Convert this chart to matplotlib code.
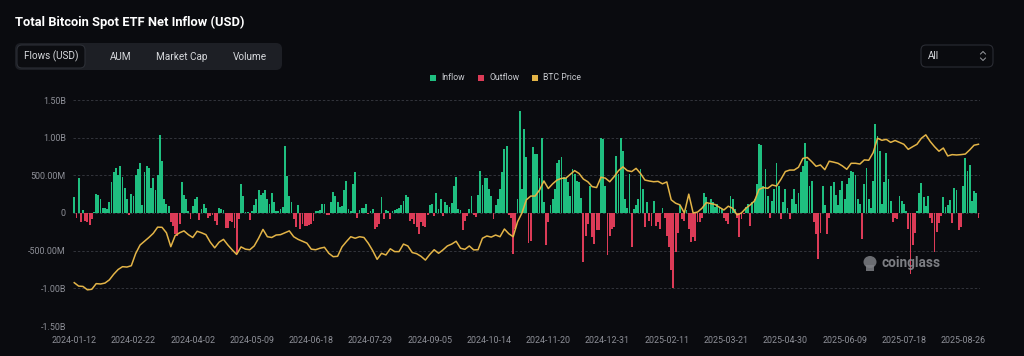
import matplotlib
matplotlib.use("Agg")
import matplotlib.pyplot as plt
from matplotlib.patches import FancyBboxPatch, Rectangle, Ellipse
import numpy as np

# net flow per trading day, billions USD
net_flow_b = [
    0.21, -0.06, 0.46, -0.12, 0.04, -0.10, -0.12, -0.16, -0.08, 0.01,
    0.25, 0.24, 0.19, 0.07, 0.07, 0.05, 0.14, 0.41, 0.54, 0.60,
    0.50, 0.63, 0.48, 0.33, 0.18, -0.02, 0.25, 0.22, 0.50, 0.58,
    0.67, 0.10, 0.55, 0.63, 0.60, 0.33, 0.47, 0.30, 0.50, 1.04,
    0.69, 0.18, 0.12, 0.09, -0.12, -0.17, -0.28, -0.30, -0.15, 0.41,
    0.24, 0.19, 0.03, -0.08, 0.09, 0.19, 0.21, -0.09, 0.05, 0.12,
    0.07, -0.06, -0.04, -0.03, -0.10, -0.16, 0.06, 0.05, 0.04,
    -0.20, -0.20, -0.10, -0.12, -0.20, -0.54, -0.08, 0.38, 0.23, 0.01,
    0.01, -0.09, 0.02, 0.10, 0.19, 0.31, 0.24, 0.27, 0.30, 0.18,
    0.12, 0.26, 0.15, 0.03, 0.03, 0.05, 0.08, 0.89, 0.49, 0.23,
    0.14, -0.08, -0.19, 0.11, -0.21, -0.15, -0.17, -0.17, -0.16, -0.15,
    -0.10,
    0.03, 0.03, 0.04, 0.12, 0.12, -0.02, -0.02, 0.14, 0.28, 0.22,
    0.15, 0.08, 0.09, 0.30, 0.43, 0.05, 0.03, 0.38, 0.54, -0.07,
    0.04, 0.06, 0.06, 0.12, -0.01, 0.03, 0.05, -0.21, -0.19, -0.14,
    0.21, -0.08, 0.04, 0.03, -0.08, 0.02, 0.04, 0.05, 0.07, 0.10,
    0.16,
    0.24, 0.21, -0.10, -0.08, -0.14, -0.18, -0.28, -0.12, -0.17, -0.19,
    -0.03, 0.10, 0.12, -0.04, 0.26, 0.05, 0.18, -0.04, 0.15, 0.10,
    0.08, 0.13, 0.36, 0.48, 0.05, 0.04, -0.23, -0.10, -0.04, 0.05,
    0.23, -0.03, -0.05, 0.24, 0.56, 0.37, 0.46, 0.47, 0.32, 0.22,
    -0.08,
    0.10, 0.18, 0.32, 0.55, 0.85, 0.89, -0.03, -0.06, -0.54, -0.21,
    0.18, 1.35, 0.32, 1.11, 0.75, -0.40, -0.37, 0.87, 0.78, 0.78,
    0.47, 1.00, 0.14, -0.43, -0.12, 0.10, 0.19, 0.32, 0.67, 0.71,
    0.74, 0.48, 0.46, 0.41, 0.23, 0.59, 0.52, 0.43, 0.41, 0.20,
    -0.65, -0.30, -0.15, 0.36, -0.32, -0.41, -0.23, -0.23, 0.99, 0.98,
    0.36, -0.56, -0.30, -0.21, -0.19, 0.76, 0.52, 0.99, 0.82, 0.18,
    0.06, 0.52, -0.45, 0.05, 0.10, 0.18, 0.58, 0.32, -0.19, 0.15,
    -0.10, -0.17, 0.16, -0.17, -0.12, -0.21, 0.07, -0.06, -0.30, -0.45,
    -0.75, -1.00, -0.52, -0.26,
    0.11, -0.08, -0.10, 0.04, -0.21, -0.39, -0.32, -0.37, -0.12, -0.12,
    -0.06, 0.27, 0.21, 0.12, 0.19, 0.14, 0.08, 0.12, 0.08, 0.05,
    -0.06, -0.10, -0.15, 0.22, 0.19, 0.05, -0.06, -0.32, -0.08, -0.01,
    0.08, 0.12, -0.17, 0.14, 0.19, 0.38, 0.91, 0.90, 0.36,
    0.58, 0.23, -0.06, 0.16, 0.32, 0.67, 0.36, -0.08, 0.14, 0.32,
    0.07, -0.08, 0.19, 0.32, 0.12, 0.27, 0.54, 0.63, 0.93, 0.69,
    0.36, 0.43, -0.12, -0.28, -0.61, -0.26, 0.36, 0.10, -0.28, -0.06,
    0.36, 0.41, 0.24, 0.10, 0.30, 0.43, 0.19, 0.38, 0.46, 0.56,
    0.54,
    0.50, 0.19, 0.12, -0.34, 0.38, 0.60, 0.19, 0.07, 0.43, 1.18,
    1.02, 0.82, 0.12, 0.41, 0.80, 0.45, 0.16, -0.12, -0.07, -0.08,
    0.23, 0.16, 0.12, 0.03, -0.21, -0.81, -0.43, -0.26, 0.03, 0.27,
    0.40, 0.21, 0.09, 0.23, -0.06, -0.13, -0.52, -0.25, -0.13, -0.04,
    0.21, 0.08, 0.10, 0.17, -0.13, 0.33, 0.31, -0.22, -0.18, 0.36,
    0.73, 0.56, 0.64, 0.16, 0.29, 0.27, -0.07,
]

# BTC price (thousand USD), read every second trading day
btc_price_k = [
    43.0, 41.2, 41.0, 39.2, 39.5, 42.5, 42.3, 42.8, 44.5, 47.5,
    50.0, 51.5, 51.3, 52.0, 58.5, 63.0, 65.0, 67.0, 69.2, 72.5,
    72.4, 69.5, 62.1, 68.0, 69.5, 70.5, 68.5, 67.0, 70.3, 69.5,
    68.5, 64.5, 61.5, 64.5, 66.0, 63.0, 60.4, 58.0, 62.0, 60.8,
    60.5, 62.5, 66.6, 71.3, 67.4, 67.0, 68.3, 68.5, 69.5, 70.5,
    67.4, 66.0, 65.0, 64.0, 60.8, 60.5, 61.3, 61.8, 58.6, 56.8,
    57.0, 62.0, 64.8, 67.4, 66.6, 67.4, 67.0, 63.9, 60.0, 55.4,
    58.6, 57.7, 61.0, 59.5, 59.5, 63.5, 62.5, 59.0, 58.4, 57.0,
    55.0, 58.0, 60.5, 58.6, 60.4, 62.5, 63.5, 65.0, 61.3, 60.7,
    62.5, 60.4, 60.5, 66.6, 67.8, 67.2, 68.3, 67.4, 71.5, 69.0,
    67.4, 75.4, 80.0, 87.0, 89.0, 89.0, 92.2, 97.0, 93.0, 95.5,
    97.5, 98.4, 98.5, 100.5, 102.5, 101.0, 98.0, 96.6, 94.0, 93.5,
    99.0, 98.5, 96.6, 99.3, 102.5, 104.5, 102.5, 102.0, 103.7, 101.0,
    97.5, 97.0, 96.6, 96.8, 95.5, 96.5, 87.0, 85.2, 84.3, 80.0,
    90.0, 80.0, 80.5, 82.5, 85.5, 85.0, 84.5, 83.0, 81.6, 83.6,
    82.5, 79.0, 80.0, 82.5, 84.3, 86.5, 92.5, 93.5, 93.1, 94.9,
    94.3, 97.9, 102.0, 102.8, 102.8, 104.3, 109.0, 109.5, 107.3, 104.8,
    105.5, 103.0, 107.5, 107.0, 106.4, 105.0, 103.2, 106.4, 106.4, 106.0,
    108.2, 108.0, 112.0, 119.7, 118.6, 119.1, 117.5, 118.5, 117.5, 116.5,
    113.8, 115.2, 116.5, 119.7, 121.5, 118.0, 115.2, 112.8, 114.5, 110.3,
    111.0, 110.8, 111.0, 111.3, 113.5, 116.0, 116.5,
]

date_labels = ["2024-01-12", "2024-02-22", "2024-04-02", "2024-05-09",
               "2024-06-18", "2024-07-29", "2024-09-05", "2024-10-14",
               "2024-11-20", "2024-12-31", "2025-02-11", "2025-03-21",
               "2025-04-30", "2025-06-09", "2025-07-18", "2025-08-26"]
label_step = 27  # trading days between date labels

y_ticks = [1.5, 1.0, 0.5, 0, -0.5, -1.0, -1.5]
y_tick_labels = ["1.50B", "1.00B", "500.00M", "0", "-500.00M", "-1.00B", "-1.50B"]

tabs = ["Flows (USD)", "AUM", "Market Cap", "Volume"]

BG = "#0a0b0f"
GREEN = "#1fbf80"
RED = "#dc3b57"
GOLD = "#e3b447"
GRID = "#33353c"
TXT = "#8e9098"

plt.rcParams["font.family"] = ["Roboto", "DejaVu Sans"]

fig = plt.figure(figsize=(10.24, 3.56), dpi=100, facecolor=BG)
ax = fig.add_axes([72.7 / 1024, 30 / 356, 907.3 / 1024, 226 / 356])
ax.set_facecolor(BG)

flows = np.array(net_flow_b)
x = np.arange(len(flows))
colors = [GREEN if v >= 0 else RED for v in flows]
ax.bar(x, flows, width=0.84, color=colors, linewidth=0, zorder=2)

ax.set_xlim(-0.7, len(flows) - 0.3)
ax.set_ylim(-1.5, 1.5)
ax.set_yticks(y_ticks)
ax.set_yticklabels(y_tick_labels)
ax.set_xticks(np.arange(len(date_labels)) * label_step)
ax.set_xticklabels(date_labels)
ax.tick_params(axis="both", length=0, colors=TXT, labelsize=6.4)
ax.tick_params(axis="x", pad=7)
ax.tick_params(axis="y", pad=5)
ax.yaxis.grid(True, linestyle=(0, (2.5, 2)), color=GRID, linewidth=0.7, zorder=0)
for s in ax.spines.values():
    s.set_visible(False)

ax2 = ax.twinx()
px = np.arange(len(btc_price_k)) * 2
ax2.plot(px, btc_price_k, color=GOLD, linewidth=1.1, zorder=3)
ax2.set_ylim(20, 140)
ax2.set_yticks([])
for s in ax2.spines.values():
    s.set_visible(False)

# overlay in pixel coordinates for the header, legend and watermark
ov = fig.add_axes([0, 0, 1, 1], zorder=5)
ov.set_xlim(0, 1024)
ov.set_ylim(356, 0)
ov.axis("off")
ov.patch.set_visible(False)

ov.text(15, 22, "Total Bitcoin Spot ETF Net Inflow (USD)", color="white",
        fontsize=9.3, fontweight="bold", va="center", ha="left")

ov.add_patch(FancyBboxPatch((15, 43), 267, 27, boxstyle="round,pad=0,rounding_size=6",
                            facecolor="#1d1f25", edgecolor="none"))
ov.add_patch(FancyBboxPatch((17, 45), 68, 23, boxstyle="round,pad=0,rounding_size=5",
                            facecolor="#0c0d11", edgecolor="#2c2f36", linewidth=0.8))
for name, cx in zip(tabs, [51, 121, 182, 250]):
    ov.text(cx, 56.5, name, color="#d6d8dc", fontsize=7.2, ha="center", va="center")

ov.add_patch(FancyBboxPatch((921, 45), 72, 22, boxstyle="round,pad=0,rounding_size=5",
                            facecolor=BG, edgecolor="#2a2c33", linewidth=0.8))
ov.text(928, 56, "All", color="#d6d8dc", fontsize=7.2, ha="left", va="center")
ov.plot([980.5, 983, 985.5], [54, 51.5, 54], color="#9a9ca2", linewidth=0.7)
ov.plot([980.5, 983, 985.5], [58, 60.5, 58], color="#9a9ca2", linewidth=0.7)

for lx, col, lab in [(433, GREEN, "Inflow"), (481, RED, "Outflow"), (535, GOLD, "BTC Price")]:
    ov.add_patch(Rectangle((lx - 3, 75), 6, 6, facecolor=col, edgecolor="none"))
    ov.text(lx + 8, 78, lab, color="#c9cbd0", fontsize=6.2, ha="left", va="center")

# watermark
ov.add_patch(Ellipse((870, 262), 13, 12, facecolor="#7d7f84", edgecolor="none", alpha=0.85))
ov.add_patch(Rectangle((866, 265), 8, 6, facecolor="#7d7f84", edgecolor="none", alpha=0.85))
ov.text(881, 263, "coinglass", color="#8a8c91", fontsize=9.8, fontweight="bold",
        ha="left", va="center", alpha=0.9)

fig.savefig("out.png", dpi=100, facecolor=BG)
